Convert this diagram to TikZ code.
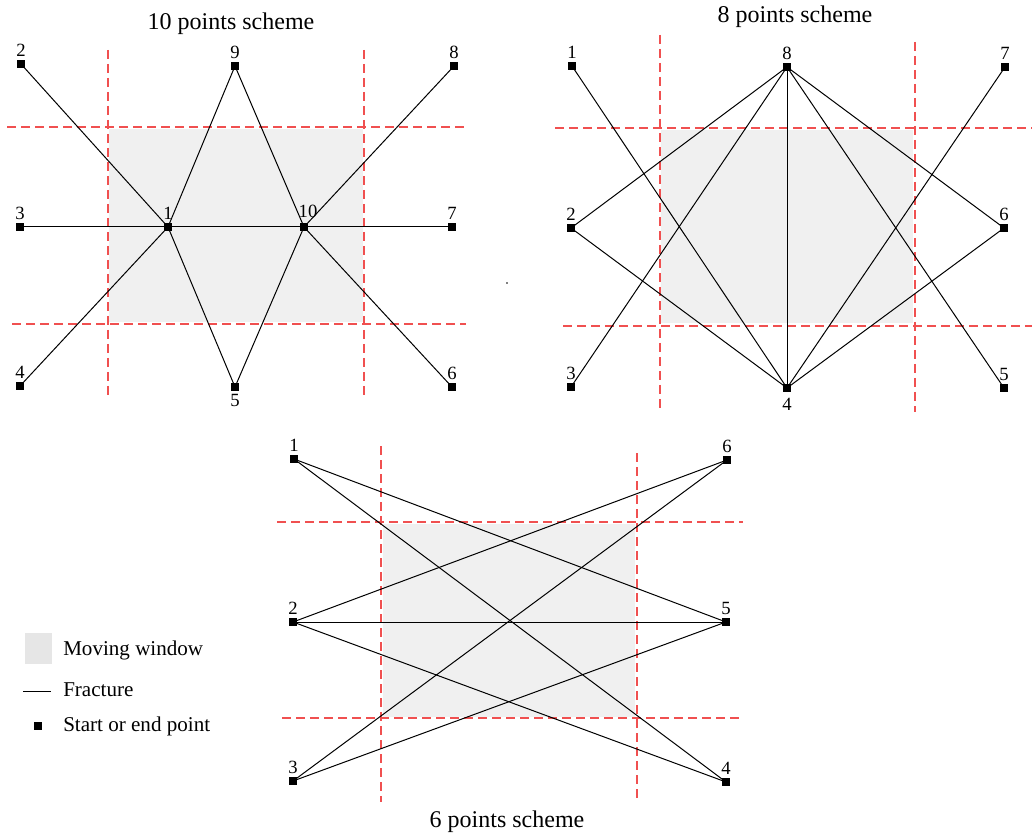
\documentclass[tikz,border=0pt]{standalone}
\usepackage{fontspec}
\setmainfont{Liberation Serif}
\definecolor{cutred}{RGB}{240,80,80}
\definecolor{winfill}{RGB}{240,240,240}
\definecolor{legfill}{RGB}{230,230,230}
\begin{document}
\begin{tikzpicture}[x=0.75pt,y=-0.75pt,
  pt/.style={rectangle,fill=black,minimum size=6.5pt,inner sep=0pt},
  lab/.style={font=\fontsize{14}{15}\selectfont,inner sep=0pt},
  ttl/.style={font=\fontsize{18}{20}\selectfont,inner sep=0pt,anchor=base},
  legtxt/.style={font=\fontsize{15.8}{17}\selectfont,inner sep=0pt,anchor=base west},
  frac/.style={black,line width=0.75pt},
  win/.style={fill=winfill,draw=none},
  cut/.style={draw=cutred,line width=0.9pt,dash pattern=on 6.5pt off 4pt},
  lbl/.style={label={[lab,label distance=2.2pt]above:#1}},
  lbb/.style={label={[lab,label distance=2pt]below:#1}}
]
\useasboundingbox (0,0) rectangle (1032,834);

% ---------- Panel 1: 10 points scheme ----------
\fill[win] (109,129) rectangle (363,322);
\draw[cut] (108,50) -- (108,399);
\draw[cut] (364,50) -- (364,399);
\draw[cut] (7,127) -- (466,127);
\draw[cut] (12,324) -- (466,324);
\node[ttl] (t1) at (231,30) {10 points scheme};

\node[pt,lbl=1] (A1) at (168,227) {};
\node[pt,lbl=2] (A2) at (21,64) {};
\node[pt,lbl=3] (A3) at (20,227) {};
\node[pt,lbl=4] (A4) at (20,386) {};
\node[pt,lbb=5] (A5) at (235,387) {};
\node[pt,lbl=6] (A6) at (452,387) {};
\node[pt,lbl=7] (A7) at (452,227) {};
\node[pt,lbl=8] (A8) at (454,66) {};
\node[pt,lbl=9] (A9) at (235,66) {};
\node[pt,label={[lab,label distance=3.5pt,xshift=3pt]above:10}] (A10) at (304,227) {};

\draw[frac] (A2.center) -- (A1.center);
\draw[frac] (A4.center) -- (A1.center);
\draw[frac] (A3.center) -- (A1.center);
\draw[frac] (A1.center) -- (A10.center);
\draw[frac] (A10.center) -- (A7.center);
\draw[frac] (A8.center) -- (A10.center);
\draw[frac] (A6.center) -- (A10.center);
\draw[frac] (A9.center) -- (A1.center);
\draw[frac] (A9.center) -- (A10.center);
\draw[frac] (A5.center) -- (A1.center);
\draw[frac] (A5.center) -- (A10.center);

% ---------- Panel 2: 8 points scheme ----------
\fill[win] (661,130) rectangle (913,323);
\draw[cut] (660,35) -- (660,412);
\draw[cut] (915,42) -- (915,412);
\draw[cut] (555,128) -- (1032,128);
\draw[cut] (563,326) -- (1032,326);
\node[ttl] (t2) at (795,23) {8 points scheme};

\node[pt,lbl=1] (B1) at (572,66) {};
\node[pt,lbl=2] (B2) at (571,228) {};
\node[pt,lbl=3] (B3) at (571,387) {};
\node[pt,label={[lab,label distance=4pt]below:4}] (B4) at (787,388) {};
\node[pt,lbl=5] (B5) at (1004,388) {};
\node[pt,lbl=6] (B6) at (1004,228) {};
\node[pt,lbl=7] (B7) at (1005,67) {};
\node[pt,lbl=8] (B8) at (787,67) {};

\draw[frac] (B1.center) -- (B4.center);
\draw[frac] (B2.center) -- (B8.center);
\draw[frac] (B2.center) -- (B4.center);
\draw[frac] (B3.center) -- (B8.center);
\draw[frac] (B7.center) -- (B4.center);
\draw[frac] (B6.center) -- (B8.center);
\draw[frac] (B6.center) -- (B4.center);
\draw[frac] (B5.center) -- (B8.center);
\draw[frac] (B8.center) -- (B4.center);

\fill (507,283) circle (0.6pt);

% ---------- Panel 3: 6 points scheme ----------
\fill[win] (383,524) rectangle (635,717);
\draw[cut] (381,446) -- (381,802);
\draw[cut] (637,453) -- (637,802);
\draw[cut] (277,522) -- (743,522);
\draw[cut] (282,718) -- (740,718);
\node[ttl] (t3) at (507,827) {6 points scheme};

\node[pt,lbl=1] (C1) at (294,459) {};
\node[pt,lbl=2] (C2) at (293,622) {};
\node[pt,lbl=3] (C3) at (293,781) {};
\node[pt,lbl=4] (C4) at (726,782) {};
\node[pt,lbl=5] (C5) at (726,622) {};
\node[pt,lbl=6] (C6) at (727,460) {};

\draw[frac] (C1.center) -- (C5.center);
\draw[frac] (C1.center) -- (C4.center);
\draw[frac] (C6.center) -- (C2.center);
\draw[frac] (C6.center) -- (C3.center);
\draw[frac] (C2.center) -- (C5.center);
\draw[frac] (C2.center) -- (C4.center);
\draw[frac] (C3.center) -- (C5.center);

% ---------- Legend ----------
\fill[legfill] (25,633) rectangle (52,664);
\node[legtxt] (l1) at (63,655) {Moving window};
\coordinate (la) at (23,691);
\coordinate (lb) at (51,691);
\draw[frac] (la) -- (lb);
\node[legtxt] (l2) at (63,696) {Fracture};
\node[pt] (lp) at (38,726) {};
\node[legtxt] (l3) at (63,731) {Start or end point};
\end{tikzpicture}
\end{document}
